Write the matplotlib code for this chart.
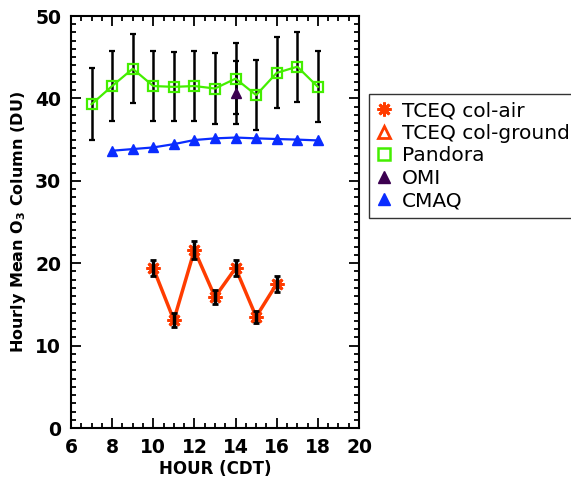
import matplotlib
matplotlib.use('Agg')  # no display
import matplotlib.pyplot as plt
from matplotlib.ticker import MultipleLocator
from matplotlib.lines import Line2D

# Pandora hourly means and spread
pandora_hours = [7, 8, 9, 10, 11, 12, 13, 14, 15, 16, 17, 18]
pandora_mean = [39.3, 41.5, 43.6, 41.5, 41.4, 41.5, 41.2, 42.4, 40.4, 43.1, 43.85, 41.4]
pandora_err = [4.4, 4.25, 4.2, 4.2, 4.2, 4.2, 4.3, 4.3, 4.2, 4.3, 4.25, 4.3]

# CMAQ model
cmaq_hours = [8, 9, 10, 11, 12, 13, 14, 15, 16, 17, 18]
cmaq_mean = [33.65, 33.85, 34.05, 34.45, 34.95, 35.15, 35.25, 35.15, 35.07, 35.0, 34.9]

# OMI overpass
omi_hours = [14]
omi_mean = [40.7]
omi_err = [3.85]

# TCEQ column (aircraft)
tceq_hours = [10, 11, 12, 13, 14, 15, 16]
tceq_mean = [19.4, 13.1, 21.6, 15.9, 19.4, 13.5, 17.5]
tceq_err = [1.0, 0.8, 1.1, 0.85, 1.0, 0.7, 0.95]

orange = '#ff3c00'
green = '#44ee00'
blue = '#0a2cff'
purple = '#3c0050'

fig = plt.figure(figsize=(5.71, 4.87), dpi=100)
ax = fig.add_axes([71 / 571, 1 - 428 / 487, 288 / 571, 412 / 487])

# Pandora
ax.errorbar(pandora_hours, pandora_mean, yerr=pandora_err, fmt='none', ecolor='black',
            elinewidth=1.8, capsize=2.5, capthick=1.6, zorder=2)
ax.plot(pandora_hours, pandora_mean, color=green, lw=1.6, marker='s', ms=7.5,
        mfc='none', mec=green, mew=1.6, zorder=3)

# OMI
ax.errorbar(omi_hours, omi_mean, yerr=omi_err, fmt='none', ecolor='black',
            elinewidth=1.8, capsize=2.5, capthick=1.6, zorder=2)
ax.plot(omi_hours, omi_mean, ls='none', marker='^', ms=7, color=purple, zorder=4)

# CMAQ
ax.plot(cmaq_hours, cmaq_mean, color=blue, lw=1.6, marker='^', ms=7, zorder=3)

# TCEQ
ax.plot(tceq_hours, tceq_mean, color=orange, lw=2.5, zorder=3)
ax.plot(tceq_hours, tceq_mean, ls='none', marker=(8, 2, 0), ms=10, mec=orange,
        mew=2, zorder=4)
ax.errorbar(tceq_hours, tceq_mean, yerr=tceq_err, fmt='none', ecolor='black',
            elinewidth=2.5, capsize=2.5, capthick=2.0, zorder=5)

ax.set_xlim(6, 20)
ax.set_ylim(0, 50)
ax.xaxis.set_major_locator(MultipleLocator(2))
ax.xaxis.set_minor_locator(MultipleLocator(0.5))
ax.yaxis.set_major_locator(MultipleLocator(10))
ax.yaxis.set_minor_locator(MultipleLocator(1))
ax.tick_params(which='both', direction='in', top=True, right=True, width=1.3)
ax.tick_params(which='major', length=7, labelsize=13.5, pad=7)
ax.tick_params(which='minor', length=3.5)
for s in ax.spines.values():
    s.set_linewidth(1.5)
for lab in ax.get_xticklabels() + ax.get_yticklabels():
    lab.set_fontweight('bold')

ax.set_xlabel('HOUR (CDT)', fontsize=12, fontweight='bold', labelpad=2)
ax.set_ylabel('Hourly Mean O$_\\mathbf{3}$ Column (DU)', fontsize=11.5, fontweight='bold', labelpad=5)

handles = [
    Line2D([], [], ls='none', marker=(8, 2, 0), ms=10, mec=orange, mew=2),
    Line2D([], [], ls='none', marker='^', ms=9, mfc='none', mec=orange, mew=2),
    Line2D([], [], ls='none', marker='s', ms=9, mfc='none', mec=green, mew=1.8),
    Line2D([], [], ls='none', marker='^', ms=8, color=purple),
    Line2D([], [], ls='none', marker='^', ms=8, color=blue),
]
labels = ['TCEQ col-air', 'TCEQ col-ground', 'Pandora', 'OMI', 'CMAQ']
leg = fig.legend(handles, labels, loc='upper left', bbox_to_anchor=(369 / 571, 1 - 94 / 487),
                 fontsize=14.5, frameon=True, fancybox=False, edgecolor='black',
                 handlelength=0.8, handletextpad=0.5, labelspacing=0.18, borderpad=0.35,
                 borderaxespad=0)
leg.get_frame().set_linewidth(1.0)

plt.savefig('out.png', dpi=100)
plt.close()
